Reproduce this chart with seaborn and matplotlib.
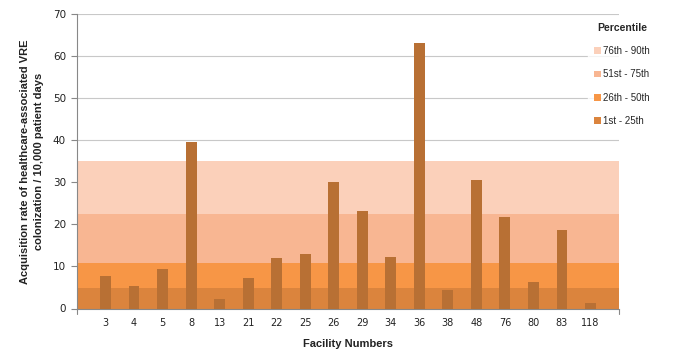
import matplotlib
matplotlib.use("Agg")
import matplotlib.pyplot as plt
import seaborn as sns
import pandas as pd
from matplotlib.patches import Patch

facilities = ["3", "4", "5", "8", "13", "21", "22", "25", "26", "29", "34", "36", "38", "48", "76", "80", "83", "118"]
rates = [7.7, 5.3, 9.4, 39.6, 2.2, 7.2, 12.0, 12.9, 30.1, 23.2, 12.2, 63.1, 4.4, 30.5, 21.7, 6.3, 18.6, 1.3]

band_labels = ["1st - 25th", "26th - 50th", "51st - 75th", "76th - 90th"]
band_edges = [0, 4.9, 10.8, 22.5, 35.0]
band_colors = ["#DB843D", "#F79646", "#F8B692", "#FBD0BA"]
bar_color = "#B87034"

sns.set_theme(style="white")
plt.rcParams['font.family'] = ['DejaVu Sans']

fig = plt.figure(figsize=(6.79, 3.56), dpi=100)
ax = fig.add_axes([77/679, 1 - 308.5/356, (619-77)/679, (308.5-14)/356])

df = pd.DataFrame({"Facility": facilities, "Rate": rates})

for y in range(10, 71, 10):
    ax.axhline(y, color="#C8C8C8", lw=0.8, zorder=0)

for i in range(4):
    ax.axhspan(band_edges[i], band_edges[i+1], color=band_colors[i], lw=0, zorder=1)

sns.barplot(data=df, x="Facility", y="Rate", order=facilities, color=bar_color,
            width=0.38, saturation=1, ax=ax, zorder=3, edgecolor="none")

ax.set_xlim(-1, 18)
ax.set_ylim(0, 70)
ax.set_yticks(range(0, 71, 10))
ax.tick_params(axis="y", labelsize=7.5, length=4, width=0.8, color="#888888", direction="out", left=True, pad=4, labelcolor="#222222")
ax.tick_params(axis="x", labelsize=7, length=0, pad=7, labelcolor="#222222")

for s in ["top", "right"]:
    ax.spines[s].set_visible(False)
for s in ["left", "bottom"]:
    ax.spines[s].set_color("#888888")
    ax.spines[s].set_linewidth(0.8)

# tick marks at ends of the category axis
ax.plot([-1, -1], [0, -1.2], color="#888888", lw=0.8, clip_on=False)
ax.plot([18, 18], [0, -1.2], color="#888888", lw=0.8, clip_on=False)

ax.set_xlabel("Facility Numbers", fontsize=8, fontweight="bold", family="Liberation Sans", labelpad=8, color="#222222")
ax.set_ylabel("Acquisition rate of healthcare-associated VRE\ncolonization / 10,000 patient days",
              fontsize=8, fontweight="bold", family="Liberation Sans", labelpad=6, color="#222222",
              linespacing=1.6)

handles = [Patch(facecolor=band_colors[i], edgecolor="none", label=band_labels[i]) for i in range(3, -1, -1)]
leg = fig.legend(handles=handles, title="Percentile", loc="upper left", bbox_to_anchor=(583/679, 1 - 12/356),
                 frameon=True, fontsize=7, title_fontproperties={"weight": "bold", "size": 7.5, "family": "Liberation Sans"},
                 handlelength=0.7, handleheight=0.7, handletextpad=0.3, labelspacing=1.37,
                 borderpad=0.6, prop={"family": "Liberation Sans", "size": 7})
leg.get_frame().set_facecolor("white")
leg.get_frame().set_edgecolor("white")
leg.set_zorder(10)

fig.savefig("out.png", dpi=100)
